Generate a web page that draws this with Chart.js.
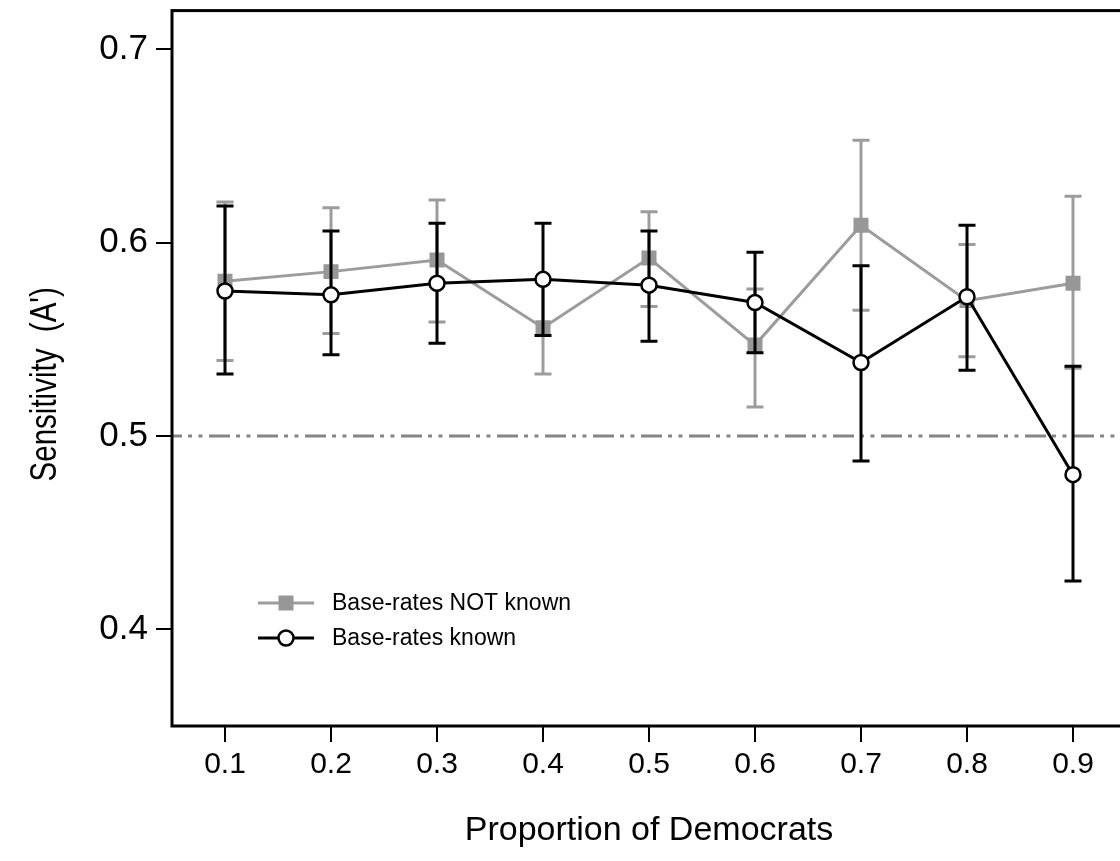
<!DOCTYPE html>
<html>
<head>
<meta charset="utf-8">
<script src="https://cdn.jsdelivr.net/npm/chart.js@4"></script>
<style>
  html, body { margin: 0; padding: 0; background: #fff; overflow: hidden; }
  #wrap { width: 1140px; height: 861px; }
</style>
</head>
<body>
<div id="wrap"><canvas id="chart" width="1140" height="861"></canvas></div>
<script>
// --- Données ---
const proportions = ['0.1', '0.2', '0.3', '0.4', '0.5', '0.6', '0.7', '0.8', '0.9'];
const yTickValues = [0.4, 0.5, 0.6, 0.7];
const chanceLevel = 0.5;

const notKnownMean  = [0.580, 0.585, 0.591, 0.556, 0.592, 0.547, 0.609, 0.570, 0.579];
const notKnownUpper = [0.621, 0.618, 0.622, 0.581, 0.616, 0.576, 0.653, 0.599, 0.624];
const notKnownLower = [0.539, 0.553, 0.559, 0.532, 0.567, 0.515, 0.565, 0.541, 0.535];

const knownMean  = [0.575, 0.573, 0.579, 0.581, 0.578, 0.569, 0.538, 0.572, 0.480];
const knownUpper = [0.619, 0.606, 0.610, 0.610, 0.606, 0.595, 0.588, 0.609, 0.536];
const knownLower = [0.532, 0.542, 0.548, 0.552, 0.549, 0.543, 0.487, 0.534, 0.425];

const yTitle = "Sensitivity  (A')";

const FONT = "'Liberation Sans', Arial, Helvetica, sans-serif";
const GREY = '#9c9c9c';

// --- Plugins maison ---
const errorBars = {
  id: 'errorBars',
  beforeDatasetDraw(chart, args) {
    const ds = chart.data.datasets[args.index];
    const meta = args.meta;
    const y = chart.scales.y;
    const ctx = chart.ctx;
    ctx.save();
    ctx.strokeStyle = ds.borderColor;
    ctx.lineWidth = 3;
    meta.data.forEach((pt, i) => {
      const top = y.getPixelForValue(ds.errUpper[i]);
      const bot = y.getPixelForValue(ds.errLower[i]);
      ctx.beginPath();
      ctx.moveTo(pt.x, top); ctx.lineTo(pt.x, bot);
      ctx.moveTo(pt.x - 8.5, top); ctx.lineTo(pt.x + 8.5, top);
      ctx.moveTo(pt.x - 8.5, bot); ctx.lineTo(pt.x + 8.5, bot);
      ctx.stroke();
    });
    ctx.restore();
  }
};

const refLine = {
  id: 'refLine',
  beforeDatasetsDraw(chart) {
    const { ctx, chartArea } = chart;
    const yPix = chart.scales.y.getPixelForValue(chanceLevel);
    ctx.save();
    ctx.strokeStyle = '#858585';
    ctx.lineWidth = 3;
    ctx.setLineDash([21, 6, 4, 6.5, 4, 6.5]);
    ctx.lineDashOffset = 11;
    ctx.beginPath();
    ctx.moveTo(chartArea.left, yPix);
    ctx.lineTo(chartArea.right, yPix);
    ctx.stroke();
    ctx.restore();
  }
};

const frameAndLegend = {
  id: 'frameAndLegend',
  afterDraw(chart) {
    const { ctx, chartArea } = chart;
    ctx.save();
    ctx.strokeStyle = '#000';
    ctx.lineWidth = 3;
    ctx.strokeRect(chartArea.left, chartArea.top, chartArea.right - chartArea.left, chartArea.bottom - chartArea.top);

    // titre de l'axe Y (police étroite)
    ctx.save();
    ctx.translate(46, (chartArea.top + chartArea.bottom) / 2 + 16);
    ctx.rotate(-Math.PI / 2);
    ctx.scale(0.82, 1);
    ctx.fillStyle = '#000';
    ctx.font = '36px ' + FONT;
    ctx.textAlign = 'center';
    ctx.textBaseline = 'middle';
    ctx.fillText(yTitle, 0, 0);
    ctx.restore();

    // légende
    const x0 = chartArea.left + 86;
    let yy = 603;
    chart.data.datasets.forEach(ds => {
      ctx.strokeStyle = ds.borderColor;
      ctx.lineWidth = 3;
      ctx.beginPath();
      ctx.moveTo(x0, yy); ctx.lineTo(x0 + 56, yy);
      ctx.stroke();
      if (ds.pointStyle === 'rect') {
        ctx.fillStyle = ds.pointBackgroundColor;
        ctx.fillRect(x0 + 28 - 7.5, yy - 7.5, 15, 15);
      } else {
        ctx.fillStyle = '#fff';
        ctx.lineWidth = 2.5;
        ctx.beginPath();
        ctx.arc(x0 + 28, yy, 7.5, 0, Math.PI * 2);
        ctx.fill(); ctx.stroke();
      }
      ctx.fillStyle = '#000';
      ctx.font = '23px ' + FONT;
      ctx.textBaseline = 'middle';
      ctx.textAlign = 'left';
      ctx.fillText(ds.label, x0 + 74, yy + 1);
      yy += 35;
    });
    ctx.restore();
  }
};

new Chart(document.getElementById('chart'), {
  type: 'line',
  data: {
    labels: proportions,
    datasets: [
      {
        label: 'Base-rates NOT known',
        data: notKnownMean,
        errUpper: notKnownUpper,
        errLower: notKnownLower,
        borderColor: GREY,
        borderWidth: 3,
        pointStyle: 'rect',
        pointRadius: 10.6,
        pointBorderWidth: 0,
        pointBackgroundColor: '#979797',
        tension: 0,
        order: 2
      },
      {
        label: 'Base-rates known',
        data: knownMean,
        errUpper: knownUpper,
        errLower: knownLower,
        borderColor: '#000',
        borderWidth: 3,
        pointStyle: 'circle',
        pointRadius: 7.5,
        pointBorderWidth: 2.5,
        pointBackgroundColor: '#fff',
        tension: 0,
        order: 1
      }
    ]
  },
  options: {
    responsive: false,
    animation: false,
    layout: { padding: { top: 9, right: 14, left: 0, bottom: 0 } },
    plugins: {
      legend: { display: false },
      tooltip: { enabled: false }
    },
    scales: {
      x: {
        type: 'category',
        offset: true,
        afterFit: s => { s.height = 135; s.paddingLeft = 0; s.paddingRight = 0; },
        border: { display: false },
        grid: { display: true, drawOnChartArea: false, drawTicks: true, tickLength: 16, color: '#000', lineWidth: 2, offset: false },
        ticks: { color: '#000', font: { family: FONT, size: 30 }, padding: 5, maxRotation: 0 },
        title: { display: true, text: 'Proportion of Democrats', color: '#000', font: { family: FONT, size: 34 }, padding: { top: 0, bottom: 10 } }
      },
      y: {
        min: 0.35,
        max: 0.72,
        afterFit: s => { s.width = 172; s.paddingTop = 0; s.paddingBottom = 0; },
        afterBuildTicks: s => { s.ticks = yTickValues.map(v => ({ value: v })); },
        border: { display: false },
        grid: { display: true, drawOnChartArea: false, drawTicks: true, tickLength: 16, color: '#000', lineWidth: 2 },
        ticks: { color: '#000', font: { family: FONT, size: 35 }, padding: 8, callback: v => v.toFixed(1) }
      }
    }
  },
  plugins: [errorBars, refLine, frameAndLegend]
});
</script>
</body>
</html>
